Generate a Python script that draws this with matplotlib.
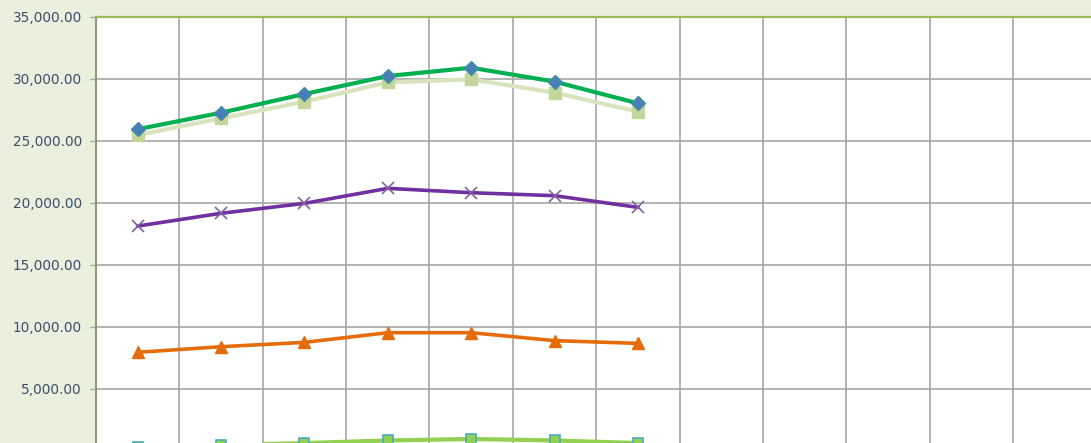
import matplotlib
matplotlib.use('Agg')
import matplotlib.pyplot as plt
from matplotlib.ticker import FuncFormatter, MultipleLocator
import numpy as np

# data (7 periods shown out of 12 slots)
periods = [1, 2, 3, 4, 5, 6, 7]
n_slots = 12

s_total = [25950, 27280, 28790, 30240, 30910, 29790, 28040]
s_light = [25480, 26830, 28170, 29730, 29970, 28900, 27370]
s_purple = [18140, 19170, 19970, 21180, 20830, 20590, 19650]
s_orange = [7960, 8410, 8760, 9540, 9540, 8900, 8680]
s_small = [320, 480, 640, 850, 970, 850, 640]

y_ticks = [5000, 10000, 15000, 20000, 25000, 30000, 35000]

bg = '#EBF0DE'
fig = plt.figure(figsize=(10.91, 4.43), dpi=100, facecolor=bg)
# plot area runs a little past the right edge and below the bottom of the image
ax = fig.add_axes([96 / 1091, 0, 1000.4 / 1091, 426 / 443])
ax.set_facecolor('white')

x = np.array(periods) - 0.5

ax.plot(x, s_light, color='#D7E4BD', lw=3.0, marker='s', ms=8,
        mfc='#C3D69B', mec='#C3D69B', zorder=3)
ax.plot(x, s_total, color='#00B050', lw=3.0, marker='D', ms=7,
        mfc='#4A7EBB', mec='#3F8FA0', zorder=4)
ax.plot(x, s_purple, color='#7030A0', lw=2.6, marker='x', ms=8, mew=1.2,
        mec='#8064A2', zorder=3)
ax.plot(x, s_orange, color='#E46C0A', lw=2.6, marker='^', ms=8.5,
        mfc='#E46C0A', mec='#E46C0A', zorder=3)
ax.plot(x, s_small, color='#92D050', lw=3.0, marker='s', ms=7.5,
        mfc='#92D050', mec='#4BACC6', mew=1.2, zorder=3)

ax.set_xlim(0, n_slots)
ax.set_ylim(645, 35000)

ax.set_yticks(y_ticks)
ax.yaxis.set_major_formatter(FuncFormatter(lambda v, p: '{:,.2f}'.format(v)))
ax.xaxis.set_major_locator(MultipleLocator(1))
ax.set_xticklabels([])
ax.tick_params(axis='x', length=0)
ax.tick_params(axis='y', length=4.3, width=1.0, color='#A6A6A6', pad=5.8,
               labelsize=9.8, labelcolor='#3B4E6B')

ax.grid(True, color='#A6A6A6', lw=1.2)
ax.set_axisbelow(True)

for side in ['right', 'bottom']:
    ax.spines[side].set_visible(False)
ax.spines['top'].set_color('#9BBB59')
ax.spines['top'].set_linewidth(1.6)
ax.spines['left'].set_color('#8E9B74')
ax.spines['left'].set_linewidth(1.5)

fig.savefig('out.png', dpi=100, facecolor=bg)
